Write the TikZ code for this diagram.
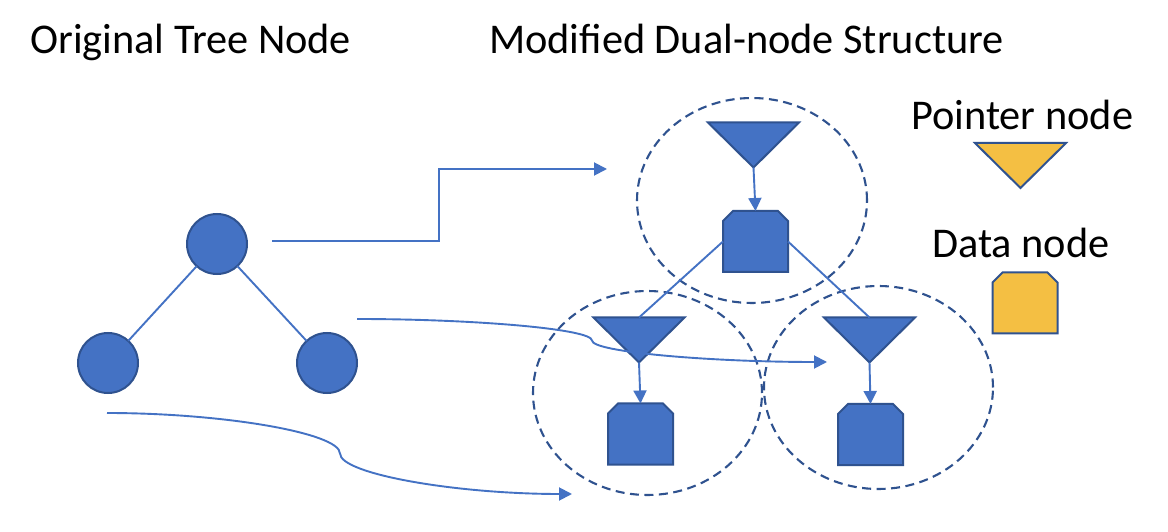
\documentclass[tikz,border=0pt]{standalone}
\usepackage{fontspec}
\setmainfont{Carlito}
\usetikzlibrary{arrows.meta,shapes.geometric}
\definecolor{ofblue}{HTML}{4472C4}
\definecolor{ofdark}{HTML}{2F528F}
\definecolor{ofgold}{HTML}{F4BF43}
\tikzset{
  hold/.style={inner sep=0pt,outer sep=0pt},
  shapeline/.style={draw=ofdark,line width=2bp,line join=miter},
  treenode/.style={circle,fill=ofblue,draw=ofdark,line width=2bp,minimum size=60bp,inner sep=0pt,outer sep=0pt},
  edge/.style={draw=ofblue,line width=1.9bp},
  conn/.style={draw=ofblue,line width=1.9bp,-{Triangle[length=13bp,width=13bp]}},
  grp/.style={ellipse,draw=ofdark,line width=2.1bp,dash pattern=on 9bp off 5.5bp,inner sep=0pt,outer sep=0pt},
  title/.style={font=\fontsize{42.5}{46}\selectfont,anchor=base west,inner sep=0pt}
}
\newcommand\ptrnode[3]{%
  \node[hold,minimum width=91bp,minimum height=45bp] (#1) at (#2) {};
  \filldraw[shapeline,fill=#3] (#1.north west) -- (#1.north east) -- (#1.south) -- cycle;}
\newcommand\datnode[3]{%
  \node[hold,minimum width=65bp,minimum height=61bp] (#1) at (#2) {};
  \filldraw[shapeline,fill=#3] (#1.south west) -- ([yshift=-10bp]#1.north west) -- ([xshift=10bp]#1.north west) -- ([xshift=-10bp]#1.north east) -- ([yshift=-10bp]#1.north east) -- (#1.south east) -- cycle;}
\begin{document}
\begin{tikzpicture}[x=1bp,y=-1bp]
\useasboundingbox (0,0) rectangle (1168,532);
\fill[white] (0,0) rectangle (1168,532);
% titles
\node[title] (t1) at (30,54) {Original Tree Node};
\node[title] (t2) at (489,54) {Modified Dual-node Structure};
\node[title] (t3) at (911,130) {Pointer node};
\node[title] (t4) at (932,258) {Data node};
% group ellipses
\node[grp,minimum width=230bp,minimum height=205bp] (g1) at (752,200.5) {};
\node[grp,minimum width=229bp,minimum height=204bp] (g2) at (647.5,393) {};
\node[grp,minimum width=229bp,minimum height=203bp] (g3) at (878.5,387.5) {};
% tree
\node[treenode] (root) at (217,244) {};
\node[treenode] (lc) at (108,363) {};
\node[treenode] (rc) at (327,363) {};
\draw[edge] (root) -- (lc);
\draw[edge] (root) -- (rc);
% dual nodes
\ptrnode{p1}{753.5,145}{ofblue}
\datnode{d1}{755.5,241.5}{ofblue}
\ptrnode{p2}{639,340}{ofblue}
\datnode{d2}{640.5,434}{ofblue}
\ptrnode{p3}{869.5,340}{ofblue}
\datnode{d3}{870.5,434.5}{ofblue}
\draw[conn] (p1.south) -- (d1.north);
\draw[conn] (p2.south) -- (d2.north);
\draw[conn] (p3.south) -- (d3.north);
\draw[edge] (d1.west) -- (p2.north);
\draw[edge] (d1.east) -- (p3.north);
% legend
\ptrnode{p4}{1020.5,165.5}{ofgold}
\datnode{d4}{1025,303}{ofgold}
% mapping connectors
\coordinate (s1) at (272,241);
\coordinate (e1) at (607,169);
\draw[conn] (s1) -- ++(167,0) |- (e1);
\coordinate (s2) at (357,319);
\coordinate (e2) at (827,362);
\draw[conn] (s2) .. controls (474,319) and (592,329) .. (592,340.5) .. controls (592,352) and (710,362) .. (e2);
\coordinate (s3) at (107,413);
\coordinate (e3) at (572,494);
\draw[conn] (s3) .. controls (223,413) and (340,433) .. (340,453.5) .. controls (340,474) and (456,494) .. (e3);
\end{tikzpicture}
\end{document}
